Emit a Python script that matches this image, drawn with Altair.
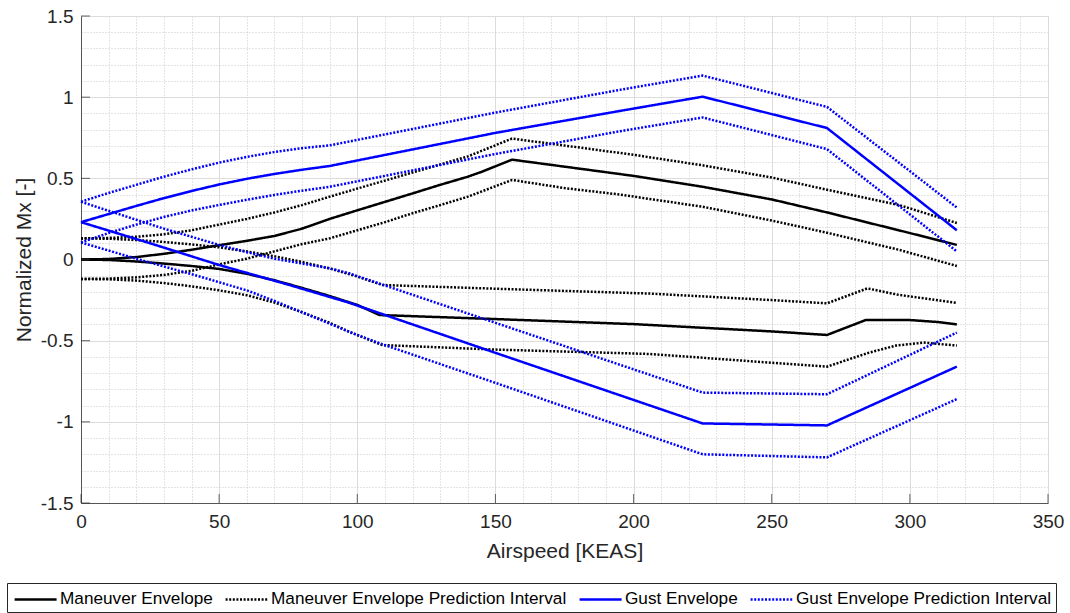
import altair as alt
import pandas as pd

# ---- data ----
ME_UP_X = [0, 10, 20, 30, 40, 50, 60, 70, 80, 90, 100, 110, 120, 130, 140, 145, 156, 175, 200, 225, 250, 270, 296, 317]
ME_UP_Y = [0, 0.003, 0.015, 0.035, 0.06, 0.088, 0.115, 0.145, 0.19, 0.25, 0.303, 0.355, 0.407, 0.46, 0.51, 0.54, 0.615, 0.572, 0.515, 0.448, 0.37, 0.29, 0.18, 0.09]

ME_LO_X = [0, 10, 20, 30, 40, 50, 60, 70, 80, 90, 100, 108, 150, 200, 250, 270, 284, 300, 310, 317]
ME_LO_Y = [0, -0.003, -0.012, -0.025, -0.04, -0.058, -0.088, -0.128, -0.175, -0.225, -0.28, -0.342, -0.367, -0.398, -0.443, -0.465, -0.373, -0.373, -0.385, -0.4]

MEPI_UU_X = [0, 10, 20, 30, 40, 50, 60, 70, 80, 90, 100, 110, 120, 130, 140, 156, 175, 200, 225, 250, 270, 296, 317]
MEPI_UU_Y = [0.13, 0.133, 0.14, 0.155, 0.18, 0.215, 0.25, 0.29, 0.335, 0.387, 0.437, 0.486, 0.536, 0.585, 0.635, 0.745, 0.702, 0.645, 0.58, 0.505, 0.43, 0.336, 0.225]

MEPI_UL_X = [0, 10, 20, 30, 40, 50, 60, 70, 80, 90, 100, 110, 120, 130, 140, 156, 175, 195, 225, 250, 270, 296, 317]
MEPI_UL_Y = [-0.12, -0.118, -0.11, -0.095, -0.07, -0.03, 0.005, 0.05, 0.095, 0.13, 0.18, 0.23, 0.285, 0.335, 0.387, 0.49, 0.44, 0.40, 0.325, 0.24, 0.165, 0.06, -0.04]

MEPI_LU_X = [0, 10, 20, 30, 40, 50, 60, 70, 80, 90, 100, 109, 150, 206, 250, 270, 284.6, 296, 317]
MEPI_LU_Y = [0.13, 0.128, 0.12, 0.108, 0.093, 0.075, 0.05, 0.02, -0.015, -0.055, -0.105, -0.157, -0.18, -0.21, -0.25, -0.27, -0.178, -0.218, -0.268]

MEPI_LL_X = [0, 10, 20, 30, 40, 50, 60, 70, 80, 90, 97, 109, 150, 206, 250, 270, 285, 295, 305, 317]
MEPI_LL_Y = [-0.12, -0.122, -0.13, -0.145, -0.165, -0.19, -0.22, -0.265, -0.325, -0.39, -0.445, -0.527, -0.555, -0.582, -0.636, -0.66, -0.575, -0.53, -0.512, -0.53]

GE_UP_X = [0, 10, 20, 30, 40, 50, 60, 70, 80, 90, 150, 195, 225, 270, 317]
GE_UP_Y = [0.23, 0.28, 0.33, 0.378, 0.422, 0.462, 0.497, 0.527, 0.553, 0.576, 0.78, 0.915, 1.003, 0.81, 0.18]

GE_LO_X = [0, 25, 50, 75, 97, 108, 150, 225, 270, 317]
GE_LO_Y = [0.23, 0.1, -0.034, -0.155, -0.266, -0.33, -0.575, -1.01, -1.022, -0.66]

GEPI_UU_X = [0, 10, 20, 30, 40, 50, 60, 70, 80, 90, 150, 195, 225, 270, 317]
GEPI_UU_Y = [0.356, 0.41, 0.46, 0.51, 0.555, 0.597, 0.632, 0.662, 0.686, 0.703, 0.905, 1.045, 1.133, 0.94, 0.32]

GEPI_UL_X = [0, 10, 20, 30, 40, 50, 60, 70, 80, 90, 150, 195, 225, 270, 317]
GEPI_UL_Y = [0.105, 0.163, 0.215, 0.262, 0.302, 0.336, 0.368, 0.398, 0.424, 0.448, 0.65, 0.79, 0.875, 0.68, 0.05]

GEPI_LU_X = [0, 10, 20, 30, 40, 50, 60, 70, 80, 90, 97, 150, 225, 270, 317]
GEPI_LU_Y = [0.356, 0.3, 0.245, 0.19, 0.14, 0.09, 0.045, 0.005, -0.025, -0.054, -0.085, -0.39, -0.82, -0.83, -0.45]

GEPI_LL_X = [0, 10, 20, 30, 40, 50, 60, 70, 80, 90, 97, 108, 150, 225, 270, 317]
GEPI_LL_Y = [0.105, 0.055, 0.005, -0.043, -0.09, -0.14, -0.19, -0.255, -0.325, -0.395, -0.445, -0.516, -0.76, -1.2, -1.219, -0.86]

SERIES = ["Maneuver Envelope", "Maneuver Envelope Prediction Interval",
          "Gust Envelope", "Gust Envelope Prediction Interval"]
COLORS = ["#000000", "#000000", "#0000ff", "#0000ff"]
X_TICKS = [0, 50, 100, 150, 200, 250, 300, 350]
Y_TICKS = [-1.5, -1, -0.5, 0, 0.5, 1, 1.5]
X_MINOR = list(range(0, 351, 10))
Y_MINOR = [round(-1.5 + 0.1 * i, 1) for i in range(31)]

lines = [
    ("me_up", SERIES[0], ME_UP_X, ME_UP_Y),
    ("me_lo", SERIES[0], ME_LO_X, ME_LO_Y),
    ("mepi_uu", SERIES[1], MEPI_UU_X, MEPI_UU_Y),
    ("mepi_ul", SERIES[1], MEPI_UL_X, MEPI_UL_Y),
    ("mepi_lu", SERIES[1], MEPI_LU_X, MEPI_LU_Y),
    ("mepi_ll", SERIES[1], MEPI_LL_X, MEPI_LL_Y),
    ("ge_up", SERIES[2], GE_UP_X, GE_UP_Y),
    ("ge_lo", SERIES[2], GE_LO_X, GE_LO_Y),
    ("gepi_uu", SERIES[3], GEPI_UU_X, GEPI_UU_Y),
    ("gepi_ul", SERIES[3], GEPI_UL_X, GEPI_UL_Y),
    ("gepi_lu", SERIES[3], GEPI_LU_X, GEPI_LU_Y),
    ("gepi_ll", SERIES[3], GEPI_LL_X, GEPI_LL_Y),
]
rows = []
for lid, s, xs, ys in lines:
    for i, (a, b) in enumerate(zip(xs, ys)):
        rows.append({"x": a, "y": b, "series": s, "line": lid, "i": i})
df = pd.DataFrame(rows)

FONT = "Liberation Sans"
W, H = 967, 487
xscale = alt.Scale(domain=[0, 350], nice=False, zero=False)
yscale = alt.Scale(domain=[-1.5, 1.5], nice=False, zero=False)

x_axis = alt.Axis(orient="bottom", values=X_TICKS, title="Airspeed [KEAS]", grid=True, gridColor="#dcdcdc",
                  ticks=False, labelPadding=9, labelFontSize=19, titleFontSize=21, labelFlush=False,
                  labelFont=FONT, titleFont=FONT, labelColor="#262626", titleColor="#262626",
                  titleFontWeight="normal", titlePadding=9, domainColor="#555555",
                  labelExpr="toString(datum.value)")
y_axis = alt.Axis(orient="left", values=Y_TICKS, title="Normalized Mx [-]", grid=True, gridColor="#dcdcdc",
                  ticks=False, labelPadding=8, labelFontSize=19, titleFontSize=21, labelFlush=False,
                  labelFont=FONT, titleFont=FONT, labelColor="#262626", titleColor="#262626",
                  titleFontWeight="normal", titlePadding=6, domainColor="#555555",
                  labelExpr="toString(datum.value)")

minor = alt.Chart(df).mark_line(opacity=0).encode(
    x=alt.X("x:Q", scale=xscale, axis=alt.Axis(orient="top", values=X_MINOR, grid=True, gridDash=[1, 2],
                                                gridColor="#c8c8c8", labels=False, ticks=False,
                                                domain=False, title=None)),
    y=alt.Y("y:Q", scale=yscale, axis=alt.Axis(orient="right", values=Y_MINOR, grid=True, gridDash=[1, 2],
                                                gridColor="#c8c8c8", labels=False, ticks=False,
                                                domain=False, title=None)),
    detail="line:N",
)

main_lines = alt.Chart(df).mark_line(strokeWidth=2.5, strokeCap="butt").encode(
    x=alt.X("x:Q", scale=xscale, axis=x_axis),
    y=alt.Y("y:Q", scale=yscale, axis=y_axis),
    color=alt.Color("series:N", scale=alt.Scale(domain=SERIES, range=COLORS),
                    legend=alt.Legend(title=None)),
    strokeDash=alt.StrokeDash("series:N", scale=alt.Scale(domain=SERIES,
                              range=[[1, 0], [2, 1.6], [1, 0], [2, 1.6]]),
                              legend=alt.Legend(title=None)),
    detail="line:N",
    order="i:Q",
)

xt = alt.Chart(pd.DataFrame({"t": X_TICKS})).mark_tick(
    color="#262626", size=9, thickness=1, orient="vertical").encode(
    x=alt.X("t:Q", scale=xscale, axis=x_axis),
    y=alt.value(H - 4.5),
)
yt = alt.Chart(pd.DataFrame({"t": Y_TICKS})).mark_tick(
    color="#262626", size=9, thickness=1, orient="horizontal").encode(
    y=alt.Y("t:Q", scale=yscale, axis=y_axis),
    x=alt.value(4.5),
)

major = alt.layer(main_lines, xt, yt)

chart = alt.layer(minor, major).resolve_axis(x="independent", y="independent").properties(
    width=W, height=H,
    autosize=alt.AutoSizeParams(type="none"),
    padding={"left": 81, "top": 16, "right": 22, "bottom": 110},
).configure_view(stroke="#dcdcdc", strokeWidth=1).configure_legend(
    orient="none", legendX=-74, legendY=567, direction="horizontal", columns=4,
    symbolType="M-0.8,0H3.2", symbolStrokeWidth=2.5, symbolSize=441,
    labelFont=FONT, labelFontSize=17.2, labelColor="#000000", labelOffset=25,
    columnPadding=7, padding=4, strokeColor="#262626", fillColor="#ffffff",
    labelLimit=0,
)

chart.save("out.html", embed_options={"renderer": "svg", "actions": False})
